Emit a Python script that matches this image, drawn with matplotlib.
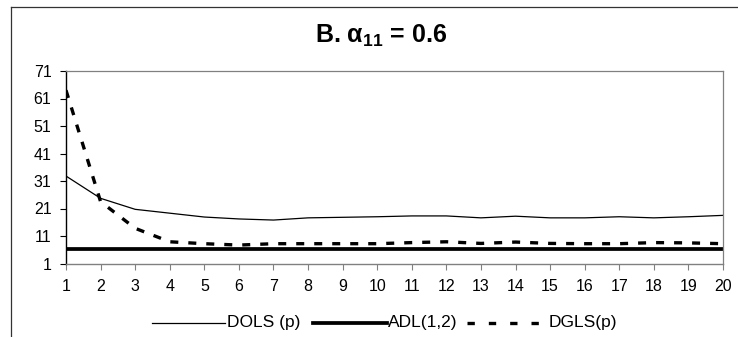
import matplotlib
matplotlib.use("Agg")
import matplotlib.pyplot as plt
from matplotlib.lines import Line2D
import numpy as np

plt.rcParams['font.family'] = ['Liberation Sans', 'DejaVu Sans']
plt.rcParams['mathtext.fontset'] = 'custom'
plt.rcParams['mathtext.rm'] = 'Liberation Sans'
plt.rcParams['mathtext.it'] = 'Liberation Sans:italic'
plt.rcParams['mathtext.bf'] = 'Liberation Sans:bold'

lags = list(range(1, 21))
dols = [32.8, 24.7, 20.7, 19.3, 17.9, 17.2, 16.8, 17.6, 17.8, 18.0,
        18.3, 18.3, 17.6, 18.2, 17.6, 17.6, 18.0, 17.6, 18.0, 18.5]
adl = [6.3] * 20
dgls = [64.0, 23.5, 13.8, 8.9, 8.2, 7.7, 8.2, 8.2, 8.2, 8.2,
        8.6, 8.9, 8.3, 8.8, 8.3, 8.2, 8.2, 8.6, 8.5, 8.2]
yticks = [1, 11, 21, 31, 41, 51, 61, 71]
title = r"B. $\mathbf{\alpha_{11}}$ = 0.6"
labels = ["DOLS (p)", "ADL(1,2)", "DGLS(p)"]

W, H = 738, 337
fig = plt.figure(figsize=(W / 100, H / 100), dpi=100)
ax = fig.add_axes([66 / W, 1 - 263.5 / H, (723 - 66) / W, (263.5 - 71) / H])

ax.plot(lags, dols, color='black', lw=0.9, solid_joinstyle='round')
ax.plot(lags, adl, color='black', lw=2.7)
ax.plot(lags, dgls, color='black', lw=2.4, dashes=(2.4, 3.0), dash_capstyle='butt')

ax.set_xlim(1, 20)
ax.set_ylim(1, 71)
ax.set_xticks(lags)
ax.set_xticklabels([str(v) for v in lags], fontsize=11.5)
ax.set_yticks(yticks)
ax.set_yticklabels([str(v) for v in yticks], fontsize=11.5)
ax.tick_params(axis='x', direction='out', length=4.5, width=0.8, color='#808080', pad=7)
ax.tick_params(axis='y', direction='out', length=4.5, width=0.8, color='black', pad=6)
for s in ['top', 'right']:
    ax.spines[s].set_color('#808080')
    ax.spines[s].set_linewidth(0.9)
ax.spines['left'].set_color('black')
ax.spines['left'].set_linewidth(1.0)
ax.spines['bottom'].set_color('#808080')
ax.spines['bottom'].set_linewidth(1.0)

fig.text(381 / W, 1 - 35.5 / H, title, ha='center', va='center',
         fontsize=18, fontweight='bold')

# outer chart frame
fig.add_artist(Line2D([11 / W, 11 / W], [0, 1 - 7 / H], color='#333333', lw=0.9,
                      transform=fig.transFigure))
fig.add_artist(Line2D([11 / W, 1], [1 - 7 / H, 1 - 7 / H], color='#333333', lw=0.9,
                      transform=fig.transFigure))

# legend
ly = 1 - 323 / H
specs = [
    (152, 225, dict(color='black', lw=0.9), 227, labels[0]),
    (313, 387, dict(color='black', lw=2.7), 388, labels[1]),
    (467, 546, dict(color='black', lw=2.4, dashes=(2.2, 4.2)), 549, labels[2]),
]
for x0, x1, kw, tx, lab in specs:
    fig.add_artist(Line2D([x0 / W, x1 / W], [ly, ly], transform=fig.transFigure, **kw))
    fig.text(tx / W, ly, lab, ha='left', va='center', fontsize=12.5)

fig.savefig("out.png", dpi=100)
